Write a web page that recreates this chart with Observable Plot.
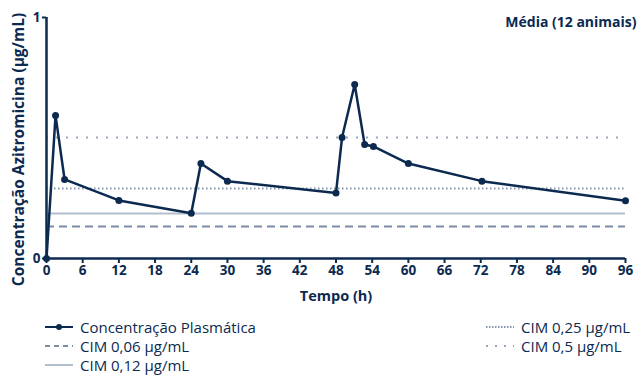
<!DOCTYPE html>
<html>
<head>
<meta charset="utf-8">
<script src="https://cdn.jsdelivr.net/npm/d3@7"></script>
<script src="https://cdn.jsdelivr.net/npm/@observablehq/plot@0.6"></script>
<style>
  body { margin: 0; background: #fff; font-family: "Open Sans", Lato, sans-serif; color: #0c2a50; }
  #wrap { width: 644px; position: relative; }
  .leg { position: absolute; font-size: 15px; line-height: 18px; height: 18px; white-space: nowrap; display: flex; align-items: center; }
  .leg svg { margin-right: 7px; }
</style>
</head>
<body>
<div id="wrap">
  <div id="chart"></div>
  <div id="legend" style="position:relative;height:72px;"></div>
</div>
<script>
const navy = "#0c2a50";
const hours = [0, 1.5, 3, 12, 24, 25.6, 30, 48, 49, 51.1, 52.75, 54.2, 60, 72.2, 96];
const conc  = [0, 0.593, 0.328, 0.241, 0.188, 0.394, 0.321, 0.272, 0.502, 0.722, 0.473, 0.465, 0.394, 0.321, 0.240];
const xTicks = d3.range(0, 97, 6);
const yTicks = [0, 1];
const cimLabels = ["CIM 0,06 µg/mL", "CIM 0,12 µg/mL", "CIM 0,25 µg/mL", "CIM 0,5 µg/mL"];
const cimLevels = [0.133, 0.187, 0.29, 0.502];
const cimColors = ["#7d8ca5", "#b3bfcf", "#8595ad", "#98a6ba"];
const cimDash = ["8,5", null, "1.5,2.5", "2,8"];
const title = "Média (12 animais)";
const xLabel = "Tempo (h)";
const yLabel = "Concentração Azitromicina (µg/mL)";
const seriesLabel = "Concentração Plasmática";

const data = hours.map((h, i) => ({h, c: conc[i]}));
const cims = cimLevels.map((v, i) => ({v, label: cimLabels[i], color: cimColors[i], dash: cimDash[i]}));

const font = "'Open Sans', Lato, sans-serif";
const chart = Plot.plot({
  width: 644,
  height: 308,
  marginLeft: 46,
  marginRight: 19,
  marginTop: 17,
  marginBottom: 50,
  style: {fontFamily: font, color: navy, background: "#fff"},
  x: {domain: [0, 96]},
  y: {domain: [0, 1]},
  marks: [
    ...cims.map(d => Plot.ruleY([d.v], {stroke: d.color, strokeWidth: 2, strokeDasharray: d.dash})),
    Plot.axisX({ticks: xTicks, tickSize: 5, tickPadding: 2, fontSize: 13.5, fontWeight: "bold", stroke: navy, strokeWidth: 2, fill: navy, label: xLabel, labelAnchor: "center", labelArrow: "none", labelOffset: 42}),
    Plot.axisY({ticks: yTicks, tickFormat: d => String(d), tickSize: 4, tickPadding: 2, fontSize: 13.5, fontWeight: "bold", stroke: navy, strokeWidth: 2, fill: navy, label: yLabel, labelAnchor: "center", labelArrow: "none", labelOffset: 34}),
    Plot.ruleY([0], {stroke: navy, strokeWidth: 2.5}),
    Plot.ruleX([0], {stroke: navy, strokeWidth: 2.5}),
    Plot.line(data, {x: "h", y: "c", stroke: navy, strokeWidth: 2.5}),
    Plot.dot(data, {x: "h", y: "c", r: 3.5, fill: navy}),
    Plot.text([title], {frameAnchor: "top-right", dx: 11, dy: 0, fontSize: 14, fontWeight: "bold", fill: navy, textAnchor: "end"})
  ]
});
chart.querySelectorAll("[aria-label='x-axis label'] text").forEach(t => {
  t.setAttribute("font-weight", "bold");
  t.setAttribute("font-size", "14.5");
});
chart.querySelectorAll("[aria-label='y-axis label'] text").forEach(t => {
  t.setAttribute("font-weight", "bold");
  t.setAttribute("font-size", "15.5");
  const tr = t.getAttribute("transform");
  if (tr) t.setAttribute("transform", tr.replace(/translate\(([^,]+),([^)]+)\)/, (m, a) => `translate(${a},149)`));
});
document.getElementById("chart").appendChild(chart);

const leg = document.getElementById("legend");
function swatch(kind, color, dash) {
  return `<svg width="28" height="10" viewBox="0 0 28 10">` +
    `<line x1="0" x2="28" y1="5" y2="5" stroke="${color}" stroke-width="2"${dash ? ` stroke-dasharray="${dash}"` : ""}/>` +
    (kind === "dot" ? `<circle cx="14" cy="5" r="3" fill="${color}"/>` : "") + `</svg>`;
}
const items = [
  {x: 45, y: 10, kind: "dot", color: navy, dash: null, label: seriesLabel},
  {x: 45, y: 29, kind: "line", color: cimColors[0], dash: "5,4", label: cimLabels[0]},
  {x: 45, y: 48, kind: "line", color: cimColors[1], dash: null, label: cimLabels[1]},
  {x: 486, y: 10, kind: "line", color: cimColors[2], dash: "1.5,1.5", label: cimLabels[2]},
  {x: 486, y: 29, kind: "line", color: cimColors[3], dash: "2,7", label: cimLabels[3]}
];
items.forEach(it => {
  const d = document.createElement("div");
  d.className = "leg";
  d.style.left = it.x + "px";
  d.style.top = it.y + "px";
  d.innerHTML = swatch(it.kind, it.color, it.dash) + `<span>${it.label}</span>`;
  leg.appendChild(d);
});
</script>
</body>
</html>
